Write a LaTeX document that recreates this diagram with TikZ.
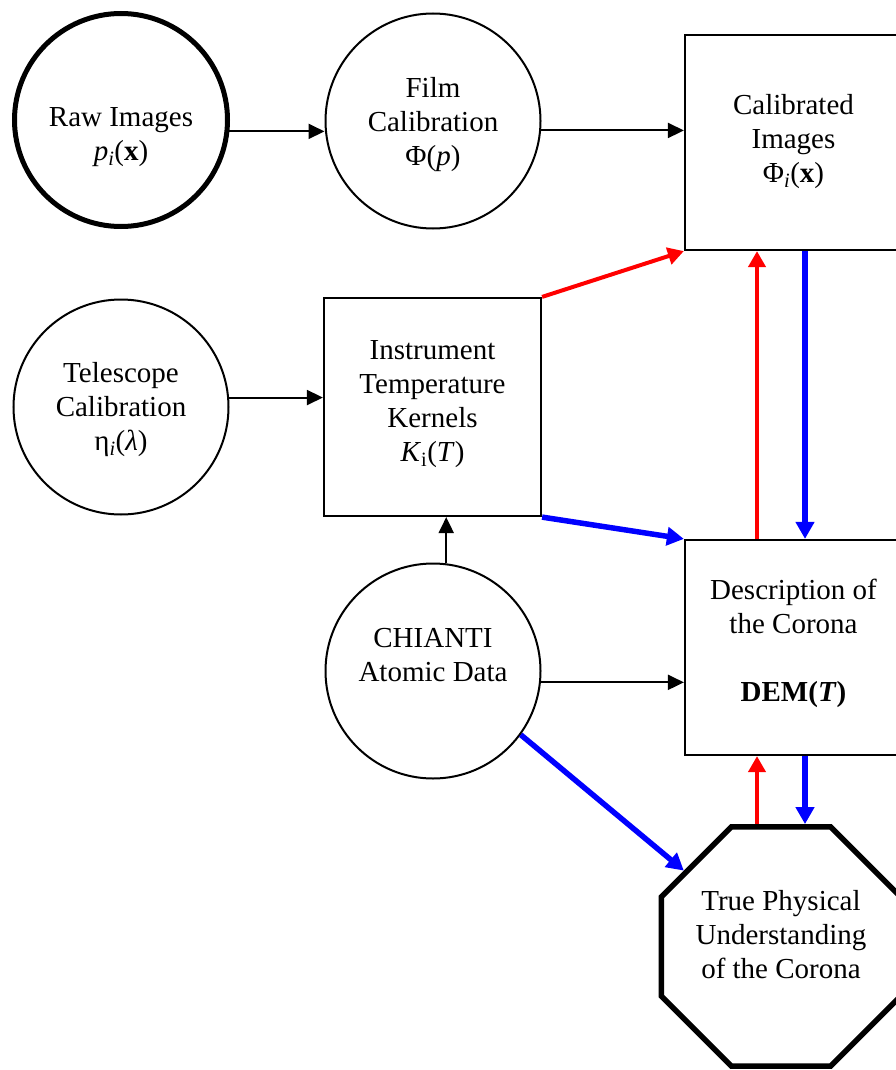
\documentclass[tikz,border=0pt]{standalone}
\usepackage{fontspec}
\setmainfont{Liberation Serif}
\usetikzlibrary{arrows.meta,shapes.geometric,calc}
\begin{document}
\begin{tikzpicture}[x=1pt,y=-1pt,
  circ/.style={circle, draw, line width=2pt, minimum size=215pt, inner sep=0pt},
  thickcirc/.style={circle, draw, line width=5pt, minimum size=213pt, inner sep=0pt},
  box/.style={rectangle, draw, line width=2.2pt, minimum width=217pt, minimum height=215pt, inner sep=0pt},
  octo/.style={regular polygon, regular polygon sides=8, draw, line width=5.5pt, minimum size=259pt, inner sep=0pt},
  txt/.style={align=center, inner sep=0pt, font=\fontsize{29}{34}\selectfont},
  blk/.style={line width=2pt, -{Triangle[length=16pt,width=15pt]}},
  redarr/.style={draw=red, line width=4pt, -{Triangle[length=16pt,width=17pt]}},
  bluearr/.style={draw=blue, line width=5.5pt, -{Triangle[length=17pt,width=18pt]}}]
\useasboundingbox (0,0) rectangle (895,1070);
\fill[white] (0,0) rectangle (895,1070);

% shapes
\node[thickcirc] (raw) at (121,120) {};
\node[circ] (film) at (433,121) {};
\node[box] (cal) at (793.5,142.5) {};
\node[circ] (tel) at (121,407) {};
\node[box, minimum height=218pt] (ins) at (432.5,407) {};
\node[circ] (chi) at (433,671) {};
\node[box] (dem) at (793.5,647.5) {};
\node[octo] (oct) at (781,946.5) {};

% texts
\node[txt] (rawt) at (121,137) {Raw Images\\\textit{p}\textsubscript{\textit{i}}(\textbf{x})};
\node[txt] (filmt) at (433,125) {Film\\Calibration\\Φ(\textit{p})};
\node[txt] (calt) at (793.5,142) {Calibrated\\Images\\Φ\textsubscript{\textit{i}}(\textbf{x})};
\node[txt] (telt) at (121,409.5) {Telescope\\Calibration\\η\textsubscript{\textit{i}}(\textit{λ})};
\node[txt] (inst) at (432.5,404) {Instrument\\Temperature\\Kernels\\\textit{K}\textsubscript{i}(\textit{T})};
\node[txt] (chit) at (433,655.5) {CHIANTI\\Atomic Data};
\node[txt] (demt) at (793.5,643.5) {Description of\\the Corona\\[34pt]\textbf{DEM(\textit{T})}};
\node[txt] (octt) at (781,935) {True Physical\\Understanding\\of the Corona};

\coordinate (rx) at (757,0);
\coordinate (bx) at (805,0);

% black connectors
\draw[blk] (raw.-6.3) -- (raw.-6.3 -| film.west);
\draw[blk] (film.-5.9) -- (film.-5.9 -| cal.west);
\draw[blk] (tel.5.8) -- (tel.5.8 -| ins.west);
\draw[blk] (chi.83.6) -- (chi.83.6 |- ins.south);
\draw[blk] (chi.-6.4) -- (chi.-6.4 -| dem.west);

% coloured connectors
\draw[redarr] (ins.north east) -- (cal.south west);
\draw[bluearr] (ins.south east) -- (dem.north west);
\draw[redarr] (dem.north -| rx) -- (cal.south -| rx);
\draw[bluearr] (cal.south -| bx) -- (dem.north -| bx);
\draw[redarr] (oct.north -| rx) -- (dem.south -| rx);
\draw[bluearr] (dem.south -| bx) -- (oct.north -| bx);
\draw[bluearr] (chi.-36) -- (oct.142);
\end{tikzpicture}
\end{document}
